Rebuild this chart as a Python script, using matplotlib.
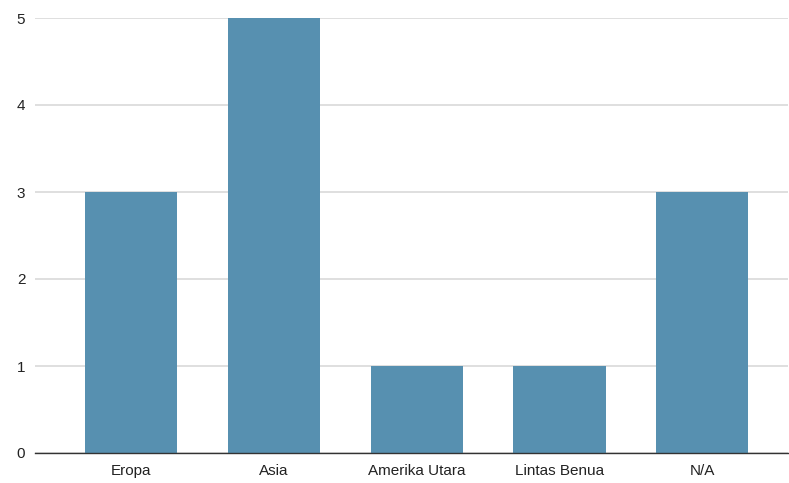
import matplotlib
matplotlib.use("Agg")
import matplotlib.pyplot as plt

categories = ["Eropa", "Asia", "Amerika Utara", "Lintas Benua", "N/A"]
values = [3, 5, 1, 1, 3]
yticks = [0, 1, 2, 3, 4, 5]

plt.rcParams['font.family'] = ['Liberation Sans', 'DejaVu Sans']

fig = plt.figure(figsize=(7.89, 4.83), dpi=100)
ax = fig.add_axes([35/789, 30/483, 753/789, 435/483])

x = list(range(len(categories)))
ax.bar(x, values, width=0.645, color="#5790b0", zorder=3)

ax.set_xlim(-0.672, 4.6)
ax.set_ylim(0, 5)
ax.set_yticks(yticks)
ax.set_yticklabels([str(v) for v in yticks], fontsize=11, color="#222222")
ax.set_xticks(x)
ax.set_xticklabels(categories, fontsize=11, color="#222222")

ax.grid(axis='y', color="#d9d9d9", linewidth=1.2, zorder=0)
for s in ["top", "right", "left"]:
    ax.spines[s].set_visible(False)
ax.spines["bottom"].set_color("#333333")
ax.spines["bottom"].set_linewidth(1.0)
ax.spines["bottom"].set_zorder(4)
ax.tick_params(axis='both', length=0)
ax.tick_params(axis='y', pad=7)
ax.tick_params(axis='x', pad=8)

fig.savefig("out.png", dpi=100, facecolor="white")
